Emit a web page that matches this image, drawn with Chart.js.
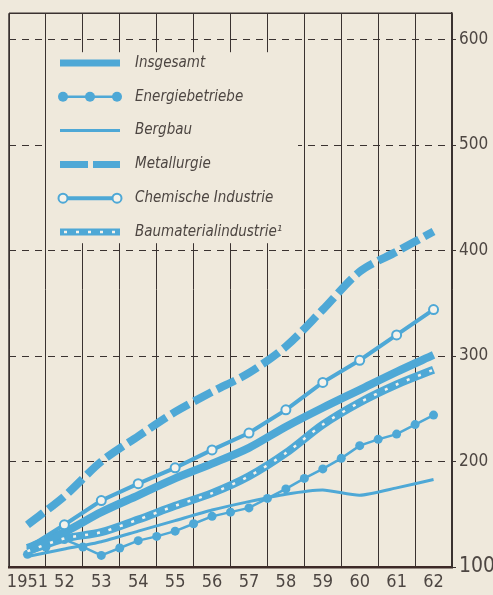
<!DOCTYPE html>
<html>
<head>
<meta charset="utf-8">
<script src="https://cdn.jsdelivr.net/npm/chart.js@4.4.1/dist/chart.umd.min.js"></script>
<style>
  html, body { margin: 0; padding: 0; background: #efe9dc; }
  #wrap { width: 493px; height: 595px; }
</style>
</head>
<body>
<div id="wrap"><canvas id="chart" width="493" height="595"></canvas></div>
<script>
"use strict";

// Years and tick labels
const years = [1951, 1952, 1953, 1954, 1955, 1956, 1957, 1958, 1959, 1960, 1961, 1962];
const yearLabels = ["1951", "52", "53", "54", "55", "56", "57", "58", "59", "60", "61", "62"];
const yTickValues = [100, 200, 300, 400, 500, 600];

// Series values (1951 = 100)
const insgesamt = [118, 133, 152, 168, 184, 198, 213, 233, 251, 268, 285, 301];
const bergbau = [110, 117, 124, 134, 144, 154, 162, 169, 173, 168, 175, 183];
const metallurgie = [140, 167, 200, 224, 247, 266, 284, 309, 344, 380, 399, 418];
const chemische = [118, 140, 163, 179, 194, 211, 227, 249, 275, 296, 320, 344];
const baumaterial = [115, 127, 133, 145, 158, 170, 186, 208, 235, 256, 273, 287];

// Energiebetriebe is plotted half-yearly
const energieYears = [1951, 1951.5, 1952, 1952.5, 1953, 1953.5, 1954, 1954.5, 1955, 1955.5, 1956, 1956.5,
                      1957, 1957.5, 1958, 1958.5, 1959, 1959.5, 1960, 1960.5, 1961, 1961.5, 1962];
const energie = [112, 119, 126, 119, 111, 118, 125, 129, 134, 141, 148, 152,
                 156, 165, 174, 184, 193, 203, 215, 221, 226, 235, 244];

const BLUE = '#4ea8d6';
const PAPER = '#efe9dc';
const INK = '#3a3230';
const TEXT = '#4d4642';
const FONT = '"Liberation Sans Narrow", "DejaVu Sans Condensed", "Roboto", sans-serif';

function pts(xs, ys) {
    return xs.map((x, i) => ({ x: x, y: ys[i] }));
}

// Legend entries drawn inside the plot
const legendItems = [
    { label: 'Insgesamt', kind: 'thick' },
    { label: 'Energiebetriebe', kind: 'dots' },
    { label: 'Bergbau', kind: 'thin' },
    { label: 'Metallurgie', kind: 'dash' },
    { label: 'Chemische Industrie', kind: 'open' },
    { label: 'Baumaterialindustrie\u00B9', kind: 'dotted' }
];

const framePlugin = {
    id: 'frame',
    beforeDatasetsDraw(chart) {
        const ctx = chart.ctx;
        const a = chart.chartArea;
        // legend backdrop hides the grid
        ctx.save();
        ctx.fillStyle = PAPER;
        ctx.fillRect(a.left + 39, a.top + 39, 250, 191);
        // top frame line
        ctx.strokeStyle = INK;
        ctx.lineWidth = 1.5;
        ctx.beginPath();
        ctx.moveTo(a.left, a.top);
        ctx.lineTo(a.right, a.top);
        ctx.moveTo(a.left, a.top);
        ctx.lineTo(a.left, a.bottom);
        ctx.stroke();
        ctx.restore();
    },
    afterDraw(chart) {
        const ctx = chart.ctx;
        const x0 = 60, x1 = 120, top = 63, step = 33.8;
        ctx.save();
        legendItems.forEach(function(item, i) {
            const y = top + i * step;
            ctx.strokeStyle = BLUE;
            ctx.fillStyle = BLUE;
            ctx.setLineDash([]);
            if (item.kind === 'thick' || item.kind === 'dotted') {
                ctx.lineWidth = 7;
                ctx.beginPath(); ctx.moveTo(x0, y); ctx.lineTo(x1, y); ctx.stroke();
                if (item.kind === 'dotted') {
                    ctx.strokeStyle = '#f5f2ea';
                    ctx.lineWidth = 2.5;
                    ctx.setLineDash([3, 9]);
                    ctx.beginPath(); ctx.moveTo(x0 + 4, y); ctx.lineTo(x1, y); ctx.stroke();
                }
            } else if (item.kind === 'dash') {
                ctx.lineWidth = 7;
                ctx.setLineDash([28, 5]);
                ctx.beginPath(); ctx.moveTo(x0, y); ctx.lineTo(x1, y); ctx.stroke();
            } else if (item.kind === 'thin') {
                ctx.lineWidth = 3;
                ctx.beginPath(); ctx.moveTo(x0, y); ctx.lineTo(x1, y); ctx.stroke();
            } else if (item.kind === 'dots') {
                ctx.lineWidth = 2.5;
                ctx.beginPath(); ctx.moveTo(x0 + 3, y); ctx.lineTo(x1 - 3, y); ctx.stroke();
                [x0 + 3, (x0 + x1) / 2, x1 - 3].forEach(function(cx) {
                    ctx.beginPath(); ctx.arc(cx, y, 5, 0, Math.PI * 2); ctx.fill();
                });
            } else if (item.kind === 'open') {
                ctx.lineWidth = 4;
                ctx.beginPath(); ctx.moveTo(x0 + 3, y); ctx.lineTo(x1 - 3, y); ctx.stroke();
                ctx.lineWidth = 2;
                ctx.fillStyle = '#f5f2ea';
                [x0 + 3, x1 - 3].forEach(function(cx) {
                    ctx.beginPath(); ctx.arc(cx, y, 4.5, 0, Math.PI * 2); ctx.fill(); ctx.stroke();
                });
            }
            ctx.setLineDash([]);
            ctx.fillStyle = TEXT;
            ctx.font = 'italic 15px ' + FONT;
            ctx.textBaseline = 'middle';
            ctx.fillText(item.label, 135, y);
        });
        ctx.restore();
    }
};

const xTickPositions = [];
for (let v = 1950.5; v <= 1962.5; v += 0.5) xTickPositions.push(v);

Chart.defaults.font.family = FONT;

new Chart(document.getElementById('chart'), {
    type: 'line',
    data: {
        datasets: [
            {
                label: 'Baumaterial dots',
                data: pts(years, baumaterial),
                borderColor: '#f5f2ea',
                borderWidth: 2.5,
                borderDash: [3, 9],
                pointRadius: 0,
                tension: 0.3,
                order: 0
            },
            {
                label: 'Insgesamt',
                data: pts(years, insgesamt),
                borderColor: BLUE,
                borderWidth: 8,
                pointRadius: 0,
                tension: 0.3,
                order: 2
            },
            {
                label: 'Energiebetriebe',
                data: pts(energieYears, energie),
                borderColor: BLUE,
                backgroundColor: BLUE,
                borderWidth: 2.5,
                pointRadius: 4.5,
                pointBorderWidth: 0,
                tension: 0,
                order: 3
            },
            {
                label: 'Bergbau',
                data: pts(years, bergbau),
                borderColor: BLUE,
                borderWidth: 3,
                pointRadius: 0,
                tension: 0.2,
                order: 4
            },
            {
                label: 'Metallurgie',
                data: pts(years, metallurgie),
                borderColor: BLUE,
                borderWidth: 8,
                borderDash: [20, 6],
                pointRadius: 0,
                tension: 0.3,
                order: 5
            },
            {
                label: 'Chemische Industrie',
                data: pts(years, chemische),
                borderColor: BLUE,
                backgroundColor: '#f5f2ea',
                borderWidth: 4,
                pointRadius: [0, 4.5, 4.5, 4.5, 4.5, 4.5, 4.5, 4.5, 4.5, 4.5, 4.5, 4.5],
                pointBorderWidth: 2,
                tension: 0,
                order: 1
            },
            {
                label: 'Baumaterialindustrie',
                data: pts(years, baumaterial),
                borderColor: BLUE,
                borderWidth: 8,
                pointRadius: 0,
                tension: 0.3,
                order: 6
            }
        ]
    },
    options: {
        responsive: false,
        animation: false,
        devicePixelRatio: 1,
        layout: { padding: { left: 9, top: 13, right: 0, bottom: 0 } },
        plugins: {
            legend: { display: false },
            tooltip: { enabled: false }
        },
        scales: {
            x: {
                type: 'linear',
                min: 1950.5,
                max: 1962.5,
                afterBuildTicks: function(scale) {
                    scale.ticks = xTickPositions.map(v => ({ value: v }));
                },
                afterFit: function(scale) { scale.height = 28; },
                grid: {
                    color: ctx => Number.isInteger(ctx.tick && ctx.tick.value) ? 'rgba(0,0,0,0)' : INK,
                    lineWidth: 1,
                    drawTicks: false
                },
                border: { display: true, color: '#3d2a27', width: 2.5 },
                ticks: {
                    autoSkip: false,
                    maxRotation: 0,
                    padding: 5,
                    color: TEXT,
                    font: { size: 18 },
                    callback: function(value) {
                        return Number.isInteger(value) ? yearLabels[value - 1951] : '';
                    }
                }
            },
            y: {
                position: 'right',
                min: 100,
                max: 625,
                afterBuildTicks: function(scale) {
                    scale.ticks = yTickValues.map(v => ({ value: v }));
                },
                afterFit: function(scale) { scale.width = 41; },
                grid: {
                    color: ctx => (ctx.tick && ctx.tick.value === 100) ? 'rgba(0,0,0,0)' : INK,
                    lineWidth: 1,
                    drawTicks: true,
                    tickLength: 4,
                    tickColor: INK
                },
                border: { display: true, color: INK, width: 1.5, dash: [7, 6] },
                ticks: {
                    padding: 3,
                    color: TEXT,
                    font: ctx => ({ size: (ctx.tick && ctx.tick.value === 100) ? 21 : 17 })
                }
            }
        }
    },
    plugins: [framePlugin]
});
</script>
</body>
</html>
